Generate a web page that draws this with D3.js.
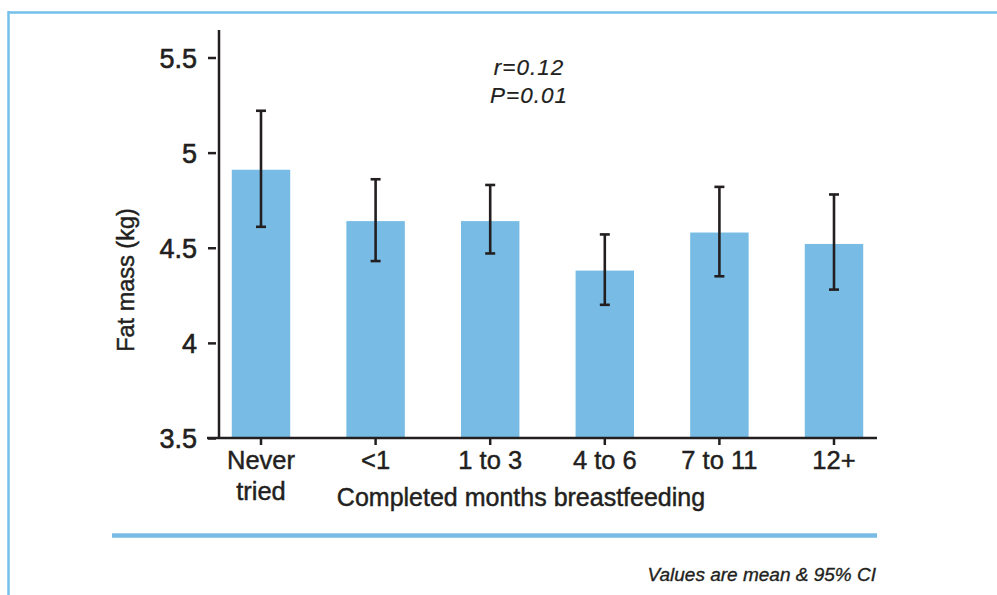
<!DOCTYPE html>
<html><head><meta charset="utf-8">
<script src="https://cdn.jsdelivr.net/npm/d3@7"></script>
<style>body{margin:0;background:#fff}svg{display:block}text{font-family:"Liberation Sans",Arial,sans-serif;fill:#231f20;stroke:#231f20;stroke-width:0.45px}</style>
</head><body>
<svg id="c" width="997" height="595"></svg>
<script>
const categories = ["Never tried", "<1", "1 to 3", "4 to 6", "7 to 11", "12+"];
const means = [4.91, 4.64, 4.64, 4.38, 4.58, 4.52];
const ciLow = [4.61, 4.43, 4.47, 4.20, 4.35, 4.28];
const ciHigh = [5.22, 4.86, 4.83, 4.57, 4.82, 4.78];
const yTicks = [3.5, 4, 4.5, 5, 5.5];
const yTickLabels = ["3.5", "4", "4.5", "5", "5.5"];

const svg = d3.select("#c");
const blue = "#78bce6", ink = "#231f20";

// frame
svg.append("line").attr("x1",8).attr("y1",12.5).attr("x2",997).attr("y2",12.5).attr("stroke","#74c0ea").attr("stroke-width",2.5);
svg.append("line").attr("x1",8.5).attr("y1",11).attr("x2",8.5).attr("y2",595).attr("stroke","#74c0ea").attr("stroke-width",2.5);

const y = d3.scaleLinear().domain([3.5, 5.5]).range([438, 57.5]);
const x = d3.scaleBand().domain(categories).range([203.7, 891.3]).paddingInner(0.49).paddingOuter(0.245);

// bars
svg.selectAll("rect.bar").data(categories).join("rect")
  .attr("x", d => x(d)).attr("width", x.bandwidth())
  .attr("y", (d,i) => y(means[i])).attr("height", (d,i) => y(3.5) - y(means[i]))
  .attr("fill", blue);

// error bars
const eg = svg.append("g").attr("stroke", ink).attr("stroke-width", 2.6);
categories.forEach((c,i) => {
  const cx = x(c) + x.bandwidth()/2;
  eg.append("line").attr("x1",cx).attr("x2",cx).attr("y1",y(ciLow[i])).attr("y2",y(ciHigh[i]));
  eg.append("line").attr("x1",cx-5).attr("x2",cx+5).attr("y1",y(ciLow[i])).attr("y2",y(ciLow[i]));
  eg.append("line").attr("x1",cx-5).attr("x2",cx+5).attr("y1",y(ciHigh[i])).attr("y2",y(ciHigh[i]));
});

// y axis
const yAxis = d3.axisLeft(y).tickValues(yTicks).tickFormat((d,i) => yTickLabels[i]).tickSize(8).tickPadding(12);
const ya = svg.append("g").attr("transform","translate(219,0)").call(yAxis);
ya.select(".domain").remove();
ya.selectAll(".tick line").attr("stroke", ink).attr("stroke-width", 2.5).attr("x1",-3).attr("x2",-11);
ya.selectAll(".tick text").attr("font-size", 27).attr("fill", ink).attr("dy","0.36em").attr("x",-22)
  .style("font-family","'Liberation Sans',Arial,sans-serif").style("stroke", ink).style("stroke-width","0.6px");
svg.append("line").attr("x1",219).attr("x2",219).attr("y1",30).attr("y2",439).attr("stroke",ink).attr("stroke-width",2.5);

// x axis
const xAxis = d3.axisBottom(x).tickSize(7).tickFormat("");
const xa = svg.append("g").attr("transform","translate(0,438)").call(xAxis);
xa.select(".domain").remove();
xa.selectAll(".tick line").attr("stroke", ink).attr("stroke-width", 2.5);
svg.append("line").attr("x1",207).attr("x2",877).attr("y1",438).attr("y2",438).attr("stroke",ink).attr("stroke-width",2.5);

// category labels
categories.forEach((c,i) => {
  const cx = x(c) + x.bandwidth()/2;
  const words = c === "Never tried" ? ["Never","tried"] : [c];
  const t = svg.append("text").attr("text-anchor","middle").attr("font-size",25.5).attr("x",cx).attr("y",469);
  words.forEach((w,j) => t.append("tspan").attr("x",cx).attr("dy", j===0?0:31).text(w));
});

svg.append("text").attr("x",521).attr("y",506).attr("text-anchor","middle").attr("font-size",25).text("Completed months breastfeeding");
svg.append("text").attr("transform","translate(134,280) rotate(-90)").attr("text-anchor","middle").attr("font-size",23.5).text("Fat mass (kg)");

svg.append("text").attr("x",529).attr("y",75).attr("text-anchor","middle").attr("font-size",22.5).attr("font-style","italic").attr("letter-spacing",1).style("stroke-width","0.2px").text("r=0.12");
svg.append("text").attr("x",529).attr("y",103).attr("text-anchor","middle").attr("font-size",22.5).attr("font-style","italic").attr("letter-spacing",1).style("stroke-width","0.2px").text("P=0.01");

// bottom rule and note
svg.append("line").attr("x1",112).attr("x2",877).attr("y1",535.5).attr("y2",535.5).attr("stroke","#78bce6").attr("stroke-width",4.5);
svg.append("text").attr("x",876).attr("y",581).attr("text-anchor","end").attr("font-size",19).attr("font-style","italic").style("stroke-width","0.35px").text("Values are mean & 95% CI");
</script>
</body></html>
